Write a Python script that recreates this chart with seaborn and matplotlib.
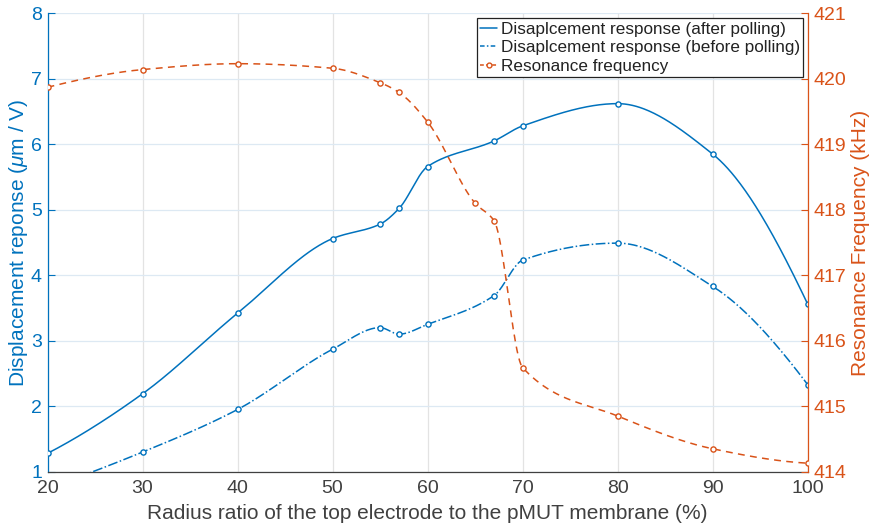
import numpy as np
import pandas as pd
import matplotlib
matplotlib.use("Agg")
import matplotlib.pyplot as plt
import seaborn as sns
from matplotlib.lines import Line2D

# ---- data ----
ratio = [20, 30, 40, 50, 55, 57, 60, 67, 70, 80, 90, 100]
disp_after = [1.28, 2.19, 3.42, 4.56, 4.78, 5.02, 5.66, 6.05, 6.28, 6.62, 5.85, 3.56]
disp_before = [0.75, 1.30, 1.95, 2.87, 3.20, 3.10, 3.25, 3.69, 4.23, 4.49, 3.83, 2.33]
ratio_freq = [20, 30, 40, 50, 55, 57, 60, 65, 67, 70, 80, 90, 100]
res_freq = [419.87, 420.14, 420.23, 420.16, 419.94, 419.79, 419.34, 418.10, 417.83,
            415.59, 414.85, 414.35, 414.13]

labels = ["Disaplcement response (after polling)",
          "Disaplcement response (before polling)",
          "Resonance frequency"]
xlabel = "Radius ratio of the top electrode to the pMUT membrane (%)"
ylabel_left = r"Displacement reponse ($\mu$m / V)"
ylabel_right = "Resonance Frequency (kHz)"

BLUE = "#0072BD"
ORANGE = "#D95319"
DARK = "#404040"


def pchip_curve(x, y, n=600):
    """Shape-preserving piecewise cubic rendering of the measured points."""
    x = np.asarray(x, float)
    y = np.asarray(y, float)
    h = np.diff(x)
    d = np.diff(y) / h
    m = np.zeros_like(y)
    for k in range(1, len(x) - 1):
        if d[k - 1] * d[k] > 0:
            w1 = 2 * h[k] + h[k - 1]
            w2 = h[k] + 2 * h[k - 1]
            m[k] = (w1 + w2) / (w1 / d[k - 1] + w2 / d[k])

    def end(h0, h1, d0, d1):
        v = ((2 * h0 + h1) * d0 - h0 * d1) / (h0 + h1)
        if np.sign(v) != np.sign(d0):
            v = 0.0
        elif np.sign(d0) != np.sign(d1) and abs(v) > abs(3 * d0):
            v = 3 * d0
        return v

    m[0] = end(h[0], h[1], d[0], d[1])
    m[-1] = end(h[-1], h[-2], d[-1], d[-2])
    xs = np.linspace(x[0], x[-1], n)
    idx = np.clip(np.searchsorted(x, xs) - 1, 0, len(x) - 2)
    t = (xs - x[idx]) / h[idx]
    h00 = 2 * t**3 - 3 * t**2 + 1
    h10 = t**3 - 2 * t**2 + t
    h01 = -2 * t**3 + 3 * t**2
    h11 = t**3 - t**2
    ys = h00 * y[idx] + h10 * h[idx] * m[idx] + h01 * y[idx + 1] + h11 * h[idx] * m[idx + 1]
    return xs, ys


sns.set_theme(style="white")
plt.rcParams["font.family"] = ["Liberation Sans", "DejaVu Sans"]
plt.rcParams["mathtext.fontset"] = "custom"
plt.rcParams["mathtext.it"] = "Liberation Sans:italic"
plt.rcParams["mathtext.rm"] = "Liberation Sans"

fig = plt.figure(figsize=(8.69, 5.30), dpi=100)
ax = fig.add_axes([0.0547, 0.110, 0.8747, 0.865])
ax2 = ax.twinx()

lw = 1.1

xs, ys = pchip_curve(ratio, disp_after)
ax.plot(xs, ys, color=BLUE, lw=lw, ls="-")
xs, ys = pchip_curve(ratio, disp_before)
ax.plot(xs, ys, color=BLUE, lw=lw, ls="-.")

df = pd.DataFrame({"ratio": ratio, "after": disp_after, "before": disp_before})
for col in ["after", "before"]:
    sns.scatterplot(data=df, x="ratio", y=col, ax=ax, marker="o", s=14,
                    facecolor="white", edgecolor=BLUE, linewidth=1.0, zorder=5,
                    legend=False)

xs, ys = pchip_curve(ratio_freq, res_freq)
ax2.plot(xs, ys, color=ORANGE, lw=lw, ls=(0, (4.5, 3.5)))
dff = pd.DataFrame({"ratio": ratio_freq, "freq": res_freq})
sns.scatterplot(data=dff, x="ratio", y="freq", ax=ax2, marker="o", s=14,
                facecolor="white", edgecolor=ORANGE, linewidth=1.0, zorder=5,
                legend=False)

ax.set_xlim(20, 100)
ax.set_ylim(1, 8)
ax2.set_ylim(414, 421)
ax.set_xticks(np.arange(20, 101, 10))
ax.set_yticks(np.arange(1, 9, 1))
ax2.set_yticks(np.arange(414, 422, 1))

ax.grid(True, axis="x", color="#e3e3e3", lw=0.9)
ax.grid(True, axis="y", color="#dde9f3", lw=0.9)
ax.set_axisbelow(True)

ax.tick_params(axis="x", direction="in", length=5, width=0.8, colors=DARK,
               labelsize=14, labelcolor=DARK, pad=6)
ax.tick_params(axis="y", direction="in", length=5, width=0.8, colors=BLUE,
               labelsize=14, labelcolor=BLUE, pad=4)
ax2.tick_params(axis="y", direction="in", length=5, width=0.8, colors=ORANGE,
                labelsize=14, labelcolor=ORANGE, pad=4)

for a in (ax, ax2):
    a.spines["top"].set_visible(False)
ax.spines["left"].set_color(BLUE)
ax.spines["bottom"].set_color(DARK)
ax.spines["right"].set_visible(False)
ax2.spines["left"].set_visible(False)
ax2.spines["bottom"].set_visible(False)
ax2.spines["right"].set_color(ORANGE)
for s in ["left", "bottom"]:
    ax.spines[s].set_linewidth(0.9)
ax2.spines["right"].set_linewidth(0.9)

ax.set_xlabel(xlabel, fontsize=15, color=DARK, labelpad=5)
ax.set_ylabel(ylabel_left, fontsize=15, color=BLUE)
ax2.set_ylabel(ylabel_right, fontsize=15, color=ORANGE)
ax.yaxis.set_label_coords(-0.023, 0.5)
ax2.yaxis.set_label_coords(1.057, 0.5)

handles = [
    Line2D([], [], color=BLUE, lw=lw, ls="-"),
    Line2D([], [], color=BLUE, lw=lw, ls=(0, (3, 1.5, 1, 1.5))),
    Line2D([], [], color=ORANGE, lw=lw, ls=(0, (2.5, 1.5)), marker="o", ms=3.5,
           markerfacecolor="white", markeredgecolor=ORANGE),
]
leg = ax2.legend(handles, labels, loc="upper right", bbox_to_anchor=(0.9942, 0.989),
                 fontsize=12.3, frameon=True, fancybox=False, framealpha=1,
                 edgecolor="#222222", handlelength=1.0, handletextpad=0.2,
                 borderpad=0.2, labelspacing=0.2, borderaxespad=0.0)
leg.get_frame().set_linewidth(0.9)
for t in leg.get_texts():
    t.set_color("#222222")

fig.savefig("out.png", dpi=100)
